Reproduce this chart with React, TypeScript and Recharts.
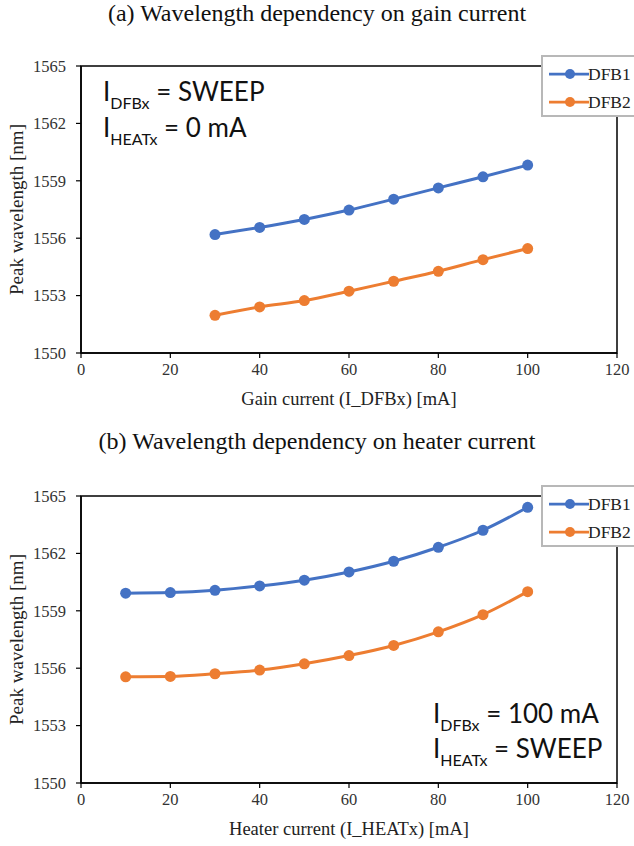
import React from 'react';
import { LineChart, Line, XAxis, YAxis, ReferenceArea, Legend } from 'recharts';

// ---- data ----
const gainCurrent = [30, 40, 50, 60, 70, 80, 90, 100];
const dfb1VsGain = [1556.19, 1556.56, 1556.98, 1557.47, 1558.04, 1558.63, 1559.21, 1559.82];
const dfb2VsGain = [1551.97, 1552.41, 1552.74, 1553.23, 1553.75, 1554.27, 1554.88, 1555.46];

const heaterCurrent = [10, 20, 30, 40, 50, 60, 70, 80, 90, 100];
const dfb1VsHeater = [1559.92, 1559.95, 1560.07, 1560.3, 1560.6, 1561.03, 1561.59, 1562.32, 1563.21, 1564.41];
const dfb2VsHeater = [1555.55, 1555.57, 1555.71, 1555.9, 1556.23, 1556.66, 1557.19, 1557.9, 1558.8, 1560.0];

const xTicks = [0, 20, 40, 60, 80, 100, 120];
const yTicks = [1550, 1553, 1556, 1559, 1562, 1565];
const seriesNames = ['DFB1', 'DFB2'];
const seriesColors = ['#4472C4', '#ED7D31'];

const titleA = '(a) Wavelength dependency on gain current';
const titleB = '(b) Wavelength dependency on heater current';
const xLabelA = 'Gain current (I_DFBx) [mA]';
const xLabelB = 'Heater current (I_HEATx) [mA]';
const yLabel = 'Peak wavelength [nm]';

const gainData = gainCurrent.map((x, i) => ({ x, DFB1: dfb1VsGain[i], DFB2: dfb2VsGain[i] }));
const heaterData = heaterCurrent.map((x, i) => ({ x, DFB1: dfb1VsHeater[i], DFB2: dfb2VsHeater[i] }));

const SERIF = '"Liberation Serif", "Times New Roman", Times, serif';
const SANS = 'Lato, "Open Sans", sans-serif';

const YLabelContent = (props: any) => {
  const vb = props.viewBox || {};
  const cy = (vb.y || 0) + (vb.height || 0) / 2;
  const x = 23;
  return (
    <text
      x={x}
      y={cy}
      transform={`rotate(-90, ${x}, ${cy})`}
      textAnchor="middle"
      fontFamily={SERIF}
      fontSize={19}
      fill="#222"
    >
      {yLabel}
    </text>
  );
};

const LegendContent = (props: any) => {
  const payload = props.payload || [];
  return (
    <div
      style={{
        width: 110,
        height: 58,
        border: '2px solid #b8b8b8',
        background: '#fff',
        position: 'relative',
        boxSizing: 'content-box',
      }}
    >
      {payload.map((p: any, i: number) => (
        <div key={p.value} style={{ position: 'absolute', left: 0, top: 17 + i * 28 - 10, height: 20, width: 110 }}>
          <svg width={46} height={20} style={{ position: 'absolute', left: 6, top: 0 }}>
            <line x1={0} y1={10} x2={40} y2={10} stroke={p.color} strokeWidth={2.75} />
            <circle cx={21} cy={10} r={5} fill={p.color} />
          </svg>
          <span
            style={{
              position: 'absolute',
              left: 45,
              top: 0,
              lineHeight: '20px',
              fontFamily: SERIF,
              fontSize: 17.5,
              color: '#222',
            }}
          >
            {p.value}
          </span>
        </div>
      ))}
    </div>
  );
};

const Panel = ({ data, xLabel, labelOffset }: { data: any[]; xLabel: string; labelOffset: number }) => (
  <LineChart width={634} height={420} data={data} margin={{ top: 66, right: 17, bottom: 7, left: 0 }}>
    <XAxis
      dataKey="x"
      type="number"
      domain={[0, 120]}
      ticks={xTicks}
      interval={0}
      tickSize={5}
      tickMargin={5}
      height={60}
      axisLine={{ stroke: '#000', strokeWidth: 1.5 }}
      tickLine={{ stroke: '#000', strokeWidth: 1.2 }}
      tick={{ fontFamily: SERIF, fontSize: 16.5, fill: '#333' }}
      label={{
        value: xLabel,
        position: 'insideBottom',
        offset: labelOffset,
        style: { fontFamily: SERIF, fontSize: 18.5, fill: '#222' },
      }}
    />
    <YAxis
      type="number"
      domain={[1550, 1565]}
      ticks={yTicks}
      interval={0}
      width={81}
      tickSize={5}
      tickMargin={10}
      axisLine={{ stroke: '#000', strokeWidth: 1.5 }}
      tickLine={{ stroke: '#000', strokeWidth: 1.2 }}
      tick={{ fontFamily: SERIF, fontSize: 16.5, fill: '#333' }}
      label={{ content: YLabelContent } as any}
    />
    <ReferenceArea
      x1={0}
      x2={120}
      y1={1550}
      y2={1565}
      fill="none"
      fillOpacity={0}
      stroke="#000"
      strokeWidth={1.5}
      ifOverflow="visible"
    />
    {seriesNames.map((name, i) => (
      <Line
        key={name}
        type="monotone"
        dataKey={name}
        name={name}
        stroke={seriesColors[i]}
        strokeWidth={3}
        dot={{ r: 5.5, fill: seriesColors[i], stroke: seriesColors[i], strokeWidth: 0 }}
        isAnimationActive={false}
      />
    ))}
    <Legend
      layout="vertical"
      align="center"
      verticalAlign="middle"
      content={LegendContent}
      wrapperStyle={{ left: 541, top: 55, width: 114, height: 62 }}
    />
  </LineChart>
);

const Sub = ({ children }: { children: React.ReactNode }) => (
  <span style={{ fontSize: 16, position: 'relative', top: 8 }}>{children}</span>
);

const annLine: React.CSSProperties = {
  position: 'absolute',
  fontFamily: SANS,
  fontSize: 26,
  lineHeight: '26px',
  whiteSpace: 'nowrap',
  color: '#111',
};

const titleStyle: React.CSSProperties = {
  position: 'absolute',
  left: 0,
  width: 634,
  textAlign: 'center',
  fontFamily: SERIF,
  fontSize: 24,
  lineHeight: '27px',
  color: '#111',
  whiteSpace: 'nowrap',
};

export default function App() {
  return (
    <div
      style={{
        position: 'absolute',
        left: 0,
        top: 0,
        width: 634,
        height: 846,
        overflow: 'hidden',
        background: '#fff',
      }}
    >
      <div style={{ ...titleStyle, top: 0 }}>{titleA}</div>
      <div style={{ position: 'absolute', left: 0, top: 0 }}>
        <Panel data={gainData} xLabel={xLabelA} labelOffset={8} />
      </div>
      <div style={{ ...annLine, left: 103, top: 78 }}>
        I<Sub>DFBx</Sub> = SWEEP
      </div>
      <div style={{ ...annLine, left: 103, top: 114 }}>
        I<Sub>HEATx</Sub> = 0 mA
      </div>

      <div style={{ ...titleStyle, top: 428 }}>{titleB}</div>
      <div style={{ position: 'absolute', left: 0, top: 430 }}>
        <Panel data={heaterData} xLabel={xLabelB} labelOffset={8} />
      </div>
      <div style={{ ...annLine, left: 433, top: 700 }}>
        I<Sub>DFBx</Sub> = 100 mA
      </div>
      <div style={{ ...annLine, left: 433, top: 735 }}>
        I<Sub>HEATx</Sub> = SWEEP
      </div>
    </div>
  );
}
